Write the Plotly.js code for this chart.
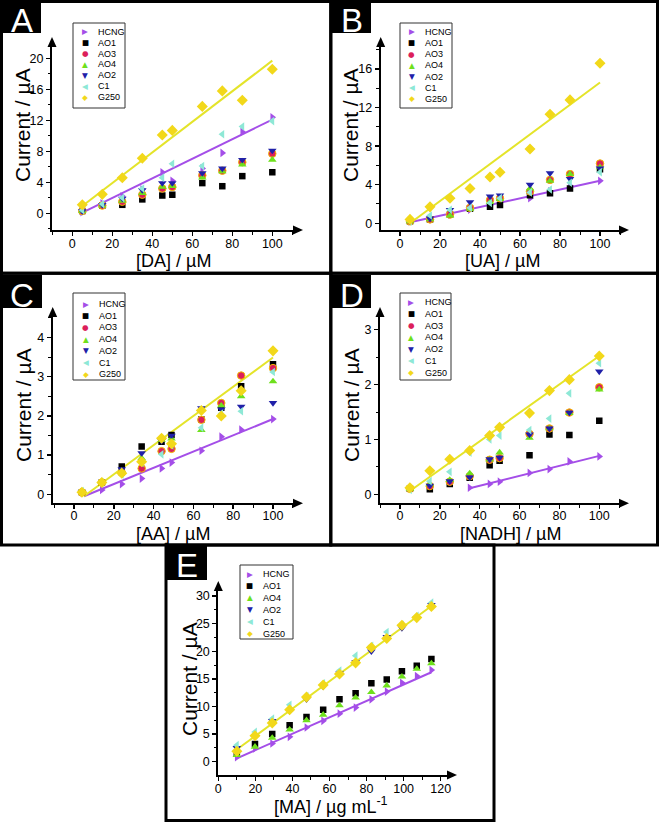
<!DOCTYPE html>
<html><head><meta charset="utf-8">
<script src="https://cdn.plot.ly/plotly-3.0.1.min.js"></script>
<style>html,body{margin:0;padding:0;background:#fff}#chart{width:661px;height:822px}</style>
</head><body><div id="chart"></div>
<script>
// ---------------- DATA ----------------
const seriesNames = ['HCNG','AO1','AO3','AO4','AO2','C1','G250'];

// Panel A: [DA]
const xA = [5,15,25,35,45,50,65,75,85,100];
const A_HCNG = [0.15,1.3,2.2,3.1,5.3,4.2,5.8,7.8,10.5,12.4];
const A_AO1  = [0.3,1.0,1.1,1.8,2.3,2.4,3.9,3.5,4.8,5.3];
const A_AO3  = [0.3,1.0,1.5,2.4,3.2,3.4,4.9,5.5,6.6,7.7];
const A_AO4  = [0.3,1.0,1.6,2.6,3.4,3.5,4.6,5.4,6.3,6.9];
const A_AO2  = [0.3,1.1,1.9,3.0,3.9,3.9,5.2,5.8,6.9,8.1];
const A_C1   = [0.4,1.2,2.0,3.2,4.6,6.4,6.1,10.2,11.2,11.9];
const A_G250 = [1.1,2.45,4.6,7.1,10.1,10.7,13.8,15.8,14.6,18.6];
const A_fitG250_x = [5,100], A_fitG250_y = [0.95,19.7];
const A_fitHCNG_x = [5,100], A_fitHCNG_y = [0.1,12.1];

// Panel B: [UA]
const xB = [5,15,25,35,45,50,65,75,85,100];
const B_HCNG = [0.2,0.5,0.9,1.4,1.9,2.2,2.6,3.3,3.9,4.4];
const B_AO1  = [0.2,0.4,0.9,1.5,1.7,1.9,2.9,3.1,3.6,5.6];
const B_AO3  = [0.2,0.4,0.9,1.6,2.4,2.6,3.3,4.5,5.1,6.2];
const B_AO4  = [0.2,0.4,0.8,1.5,2.2,2.5,3.6,4.4,5.1,5.8];
const B_AO2  = [0.2,0.5,1.4,2.2,2.8,2.9,4.0,5.2,4.6,5.7];
const B_C1   = [0.2,0.8,1.4,1.6,2.1,2.6,3.2,3.5,4.2,5.3];
const B_G250 = [0.4,1.7,2.6,3.6,4.8,5.3,7.7,11.3,12.8,16.6];
const B_fitG250_x = [5,100], B_fitG250_y = [0.0,14.6];
const B_fitHCNG_x = [5,100], B_fitHCNG_y = [0.1,4.4];

// Panel C: [AA]
const xC = [4,14,24,34,44,49,64,74,84,100];
const C_HCNG = [0.05,0.11,0.26,0.4,0.66,0.81,1.11,1.47,1.65,1.92];
const C_AO1  = [0.05,0.3,0.71,1.22,1.34,1.51,1.91,2.21,2.76,3.32];
const C_AO3  = [0.05,0.3,0.55,0.66,1.1,1.16,1.9,2.33,3.03,3.22];
const C_AO4  = [0.08,0.33,0.6,0.92,1.38,1.42,1.64,2.26,2.5,2.88];
const C_AO2  = [0.05,0.27,0.64,1.05,1.36,1.5,2.2,2.17,2.24,2.33];
const C_C1   = [0.08,0.3,0.5,0.8,1.02,1.25,1.7,2.06,2.12,3.12];
const C_G250 = [0.05,0.3,0.54,0.83,1.43,1.29,2.14,2.0,2.64,3.66];
const C_fitG250_x = [5,100], C_fitG250_y = [-0.05,3.49];
const C_fitHCNG_x = [5,100], C_fitHCNG_y = [-0.05,1.92];

// Panel D: [NADH]
const xD = [5,15,25,35,45,50,65,75,85,100];
const D_HCNG = [null,null,null,0.12,0.19,0.23,0.39,0.46,0.6,0.69];
const D_AO1  = [0.1,0.09,0.19,0.3,0.53,0.61,0.71,1.09,1.08,1.34];
const D_AO3  = [0.1,0.15,0.23,0.33,0.63,0.66,1.1,1.2,1.49,1.95];
const D_AO4  = [0.1,0.18,0.26,0.38,0.63,0.76,1.03,1.2,1.48,1.91];
const D_AO2  = [0.1,0.16,0.24,0.31,0.64,0.67,1.09,1.2,1.49,2.24];
const D_C1   = [0.08,0.24,0.41,0.76,1.0,1.07,1.17,1.38,1.84,2.39];
const D_G250 = [0.12,0.43,0.64,0.8,1.07,1.22,1.48,1.89,2.09,2.52];
const D_fitG250_x = [5,100], D_fitG250_y = [0.06,2.52];
const D_fitHCNG_x = [35,100], D_fitHCNG_y = [0.11,0.7];

// Panel E: [MA]
const xE = [10,19.8,29.1,38.5,47.6,56.6,65.4,74.1,82.6,90.9,99.1,107.1,115];
const E_HCNG = [0.8,2.4,3.3,4.5,6.2,7.4,8.7,9.8,11.3,12.7,14.3,15.5,16.6];
const E_AO1  = [1.5,3.2,5.0,6.6,8.1,9.4,11.3,12.4,14.2,14.9,16.4,17.4,18.6];
const E_AO4  = [1.2,2.7,4.3,5.8,7.5,8.5,10.2,11.6,12.6,13.8,15.4,16.8,17.8];
const E_AO2  = [2.5,4.5,7.4,9.2,11.3,13.6,16.0,18.1,20.0,22.6,24.2,26.0,28.4];
const E_C1   = [3.0,5.4,7.8,10.3,11.9,14.2,16.5,19.2,21.0,23.5,24.8,26.4,28.8];
const E_G250 = [1.9,4.7,7.0,9.4,11.7,13.9,15.9,17.9,20.7,22.3,24.7,26.1,28.1];
const E_fitG250_x = [10,115], E_fitG250_y = [2.2,28.2];
const E_fitHCNG_x = [10,115], E_fitHCNG_y = [0.6,16.2];

// tick labels / titles
const xTitles = ['[DA] / µM','[UA] / µM','[AA] / µM','[NADH] / µM','[MA] / µg mL<sup>-1</sup>'];
const yTitle = 'Current / µA';
const panelLetters = ['A','B','C','D','E'];

// ---------------- STYLES ----------------
const sty = {
  HCNG:{symbol:'triangle-right', color:'#a44ee8', glyph:'▶'},
  AO1: {symbol:'square',         color:'#000000', glyph:'■'},
  AO3: {symbol:'circle',         color:'#dc1f5a', glyph:'●', line:'#f2b800'},
  AO4: {symbol:'triangle-up',    color:'#6ee01c', glyph:'▲'},
  AO2: {symbol:'triangle-down',  color:'#2020a8', glyph:'▼'},
  C1:  {symbol:'triangle-left',  color:'#8ee8d6', glyph:'◀'},
  G250:{symbol:'diamond',        color:'#f2d81a', glyph:'◆'}
};
const fitColor = {G250:'#e4e42a', HCNG:'#a44ee8'};

const W=661,H=822;
const px=p=>p/W, py=p=>1-p/H;

const panels = [
  {x:xA, d:{HCNG:A_HCNG,AO1:A_AO1,AO3:A_AO3,AO4:A_AO4,AO2:A_AO2,C1:A_C1,G250:A_G250},
   fits:[[A_fitHCNG_x,A_fitHCNG_y,'HCNG'],[A_fitG250_x,A_fitG250_y,'G250']],
   xdom:[52,294], xr:[-10.15,110.85], ydom:[46,230], yr:[-2.15,21.59], xdt:20, ydt:4,
   frame:[1.5,1.5,330.8,273.3], box:[0,0,41,33], tso:-3,
   yt:[23,125], xt:[173,261],
   leg:{box:[73,23,125,108], gx:85, tx:96.5, y0:31.7, dy:10.9}},
  {x:xB, d:{HCNG:B_HCNG,AO1:B_AO1,AO3:B_AO3,AO4:B_AO4,AO2:B_AO2,C1:B_C1,G250:B_G250},
   fits:[[B_fitHCNG_x,B_fitHCNG_y,'HCNG'],[B_fitG250_x,B_fitG250_y,'G250']],
   xdom:[380.7,620], xr:[-9.65,110], ydom:[46,230], yr:[-0.7,18.39], xdt:20, ydt:4,
   frame:[330.8,1.5,657.5,273.3], box:[330,0,371,33], tso:-3,
   yt:[351,125], xt:[502,261],
   leg:{box:[400,23,452,108], gx:411.7, tx:424.5, y0:31.7, dy:11.2}},
  {x:xC, d:{HCNG:C_HCNG,AO1:C_AO1,AO3:C_AO3,AO4:C_AO4,AO2:C_AO2,C1:C_C1,G250:C_G250},
   fits:[[C_fitHCNG_x,C_fitHCNG_y,'HCNG'],[C_fitG250_x,C_fitG250_y,'G250']],
   xdom:[52.7,294], xr:[-10.7,110.55], ydom:[316,503.3], yr:[-0.23,4.55], xdt:20, ydt:1,
   frame:[1.5,273.3,330.8,545], box:[0,275,42,308], tso:-4,
   yt:[23,405], xt:[173,533.5],
   leg:{box:[73,293,125,380], gx:85.7, tx:97.5, y0:304, dy:11.7}},
  {x:xD, d:{HCNG:D_HCNG,AO1:D_AO1,AO3:D_AO3,AO4:D_AO4,AO2:D_AO2,C1:D_C1,G250:D_G250},
   fits:[[D_fitHCNG_x,D_fitHCNG_y,'HCNG'],[D_fitG250_x,D_fitG250_y,'G250']],
   xdom:[380,620], xr:[-10.0,110.4], ydom:[316,503.3], yr:[-0.164,3.25], xdt:20, ydt:1,
   frame:[330.8,273.3,657.5,545], box:[330,275,371,308], tso:-4,
   yt:[351,405], xt:[510,533.5],
   leg:{box:[400,293,451,380], gx:411, tx:424, y0:302, dy:11.8}},
  {x:xE, d:{HCNG:E_HCNG,AO1:E_AO1,AO4:E_AO4,AO2:E_AO2,C1:E_C1,G250:E_G250},
   fits:[[E_fitHCNG_x,E_fitHCNG_y,'HCNG'],[E_fitG250_x,E_fitG250_y,'G250']],
   xdom:[218.3,448], xr:[0,123.96], ydom:[590,775], yr:[-2.41,31.1], xdt:20, ydt:5,
   frame:[166,545,494,820.5], box:[165,545,207,580], tso:-3,
   yt:[189,679], xt:[331,805],
   leg:{box:[240,565,293,639], gx:249.5, tx:261.5, y0:574, dy:11.9}}
];

const traces=[], shapes=[], annotations=[];
const layout = {width:W, height:H, margin:{l:0,r:0,t:0,b:0}, showlegend:false,
  paper_bgcolor:'#fff', plot_bgcolor:'rgba(0,0,0,0)', font:{family:'Arial, Liberation Sans', color:'#000'}};

const tickfont = {family:'Arial, Liberation Sans', size:12.5, color:'#000'};

panels.forEach((p,i)=>{
  const n = i===0 ? '' : String(i+1);
  const xa='x'+n, ya='y'+n;
  // fits
  p.fits.forEach(f=>{
    traces.push({type:'scatter', mode:'lines', x:f[0], y:f[1], xaxis:xa, yaxis:ya,
      line:{color:fitColor[f[2]], width:2}, hoverinfo:'skip'});
  });
  // markers
  const names = seriesNames.filter(s=>p.d[s]);
  names.forEach(s=>{
    const st=sty[s];
    traces.push({type:'scatter', mode:'markers', name:s, x:p.x, y:p.d[s], xaxis:xa, yaxis:ya,
      marker:{symbol:st.symbol, size:s==='AO1'?6.5:(s==='G250'?8.5:7.5), color:st.color,
        line:{width:st.line?1:0, color:st.line||st.color}}});
  });
  layout['xaxis'+n] = {domain:[px(p.xdom[0]),px(p.xdom[1])], range:p.xr, anchor:ya,
    showline:true, linewidth:2, linecolor:'#000', ticks:'outside', ticklen:4, tickwidth:1.5, tickcolor:'#000',
    ticklabelstandoff:p.tso,
    tick0:0, dtick:p.xdt, minor:{dtick:p.xdt/2, ticks:'outside', ticklen:2.5, tickwidth:1, tickcolor:'#000'},
    showgrid:false, zeroline:false, tickfont:tickfont, fixedrange:true};
  layout['yaxis'+n] = {domain:[py(p.ydom[1]),py(p.ydom[0])], range:p.yr, anchor:xa,
    showline:true, linewidth:2, linecolor:'#000', ticks:'outside', ticklen:4, tickwidth:1.5, tickcolor:'#000',
    tick0:0, dtick:p.ydt, minor:{dtick:p.ydt/2, ticks:'outside', ticklen:2.5, tickwidth:1, tickcolor:'#000'},
    showgrid:false, zeroline:false, tickfont:tickfont, fixedrange:true};
  // arrows
  const xe=p.xdom[1], yb=p.ydom[1], xl=p.xdom[0], yt=p.ydom[0];
  shapes.push({type:'path', xref:'paper', yref:'paper', fillcolor:'#000', line:{width:0},
    path:`M ${px(xe-1)},${py(yb-4.5)} L ${px(xe+9)},${py(yb)} L ${px(xe-1)},${py(yb+4.5)} Z`});
  shapes.push({type:'path', xref:'paper', yref:'paper', fillcolor:'#000', line:{width:0},
    path:`M ${px(xl-4.5)},${py(yt+1)} L ${px(xl)},${py(yt-9)} L ${px(xl+4.5)},${py(yt+1)} Z`});
  // letter box
  shapes.push({type:'rect', xref:'paper', yref:'paper', x0:px(p.box[0]), x1:px(p.box[2]), y0:py(p.box[1]), y1:py(p.box[3]),
    fillcolor:'#000', line:{width:0}});
  annotations.push({xref:'paper', yref:'paper', x:px((p.box[0]+p.box[2])/2+1), y:py(p.box[1]+0.5),
    text:panelLetters[i], showarrow:false, font:{family:'Arial, Liberation Sans', size:33, color:'#fff'},
    xanchor:'center', yanchor:'top', borderpad:0});
  // frame
  shapes.push({type:'rect', xref:'paper', yref:'paper', x0:px(p.frame[0]), x1:px(p.frame[2]), y0:py(p.frame[1]), y1:py(p.frame[3]),
    line:{width:3, color:'#000'}, fillcolor:'rgba(0,0,0,0)'});
  // titles
  annotations.push({xref:'paper', yref:'paper', x:px(p.yt[0]), y:py(p.yt[1]), text:yTitle, textangle:-90,
    showarrow:false, font:{size:21, color:'#000'}, xanchor:'center', yanchor:'middle'});
  annotations.push({xref:'paper', yref:'paper', x:px(p.xt[0]), y:py(p.xt[1]), text:xTitles[i],
    showarrow:false, font:{size:18, color:'#000'}, xanchor:'center', yanchor:'middle', borderpad:0});
  // legend (box + one glyph and one label per series)
  const L=p.leg;
  shapes.push({type:'rect', xref:'paper', yref:'paper', x0:px(L.box[0]), x1:px(L.box[2]), y0:py(L.box[1]), y1:py(L.box[3]),
    line:{width:1, color:'#333'}, fillcolor:'#fff', layer:'below'});
  names.forEach((s,k)=>{
    const yc = L.y0 + k*L.dy;
    annotations.push({xref:'paper', yref:'paper', x:px(L.gx), y:py(yc), text:sty[s].glyph, showarrow:false,
      font:{family:'DejaVu Sans', size:7.5, color:sty[s].color}, xanchor:'center', yanchor:'middle', borderpad:0});
    annotations.push({xref:'paper', yref:'paper', x:px(L.tx), y:py(yc), text:s, showarrow:false,
      font:{family:'Arial, Liberation Sans', size:9, color:'#000'}, xanchor:'left', yanchor:'middle', borderpad:0});
  });
});

layout.shapes = shapes;
layout.annotations = annotations;
Plotly.newPlot('chart', traces, layout, {displayModeBar:false, staticPlot:true});
</script></body></html>
